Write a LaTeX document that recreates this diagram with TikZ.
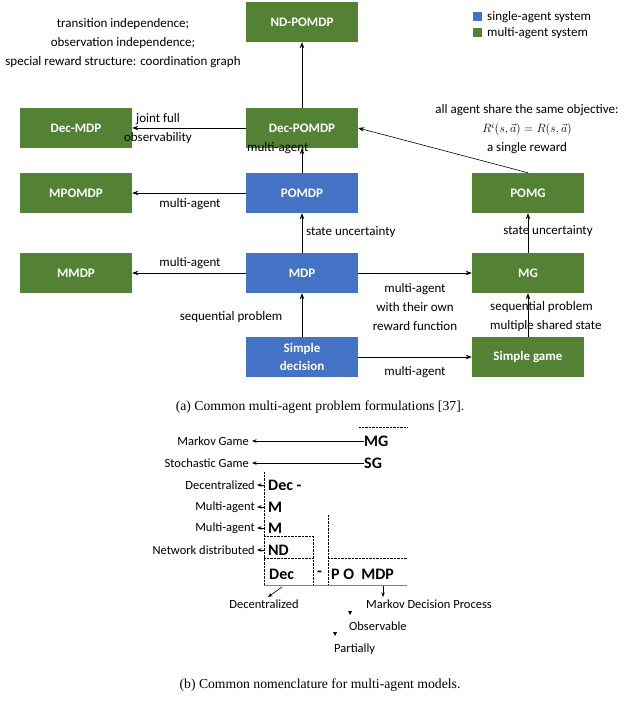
\documentclass[tikz,border=0pt]{standalone}
\usepackage{fontspec}
\setmainfont{Carlito}
\newfontfamily\capfont{Liberation Serif}
\usetikzlibrary{arrows.meta}
\definecolor{sblue}{HTML}{4472C4}
\definecolor{mgreen}{HTML}{548235}
\begin{document}
\begin{tikzpicture}[x=1pt,y=-1pt,
  box/.style={minimum width=112pt,minimum height=40pt,inner sep=0pt,text=white,font=\fontsize{13}{15}\selectfont\bfseries},
  sa/.style={box,fill=sblue},
  ma/.style={box,fill=mgreen},
  lbl/.style={font=\fontsize{13}{19}\selectfont,inner sep=0pt,align=center},
  arr/.style={-{Stealth[length=6pt,width=4.5pt]},thick},
  sm/.style={font=\fontsize{12.5}{14}\selectfont,inner sep=0pt},
  big/.style={font=\fontsize{16}{18}\selectfont\bfseries,inner sep=0pt,anchor=west},
  dot/.style={densely dotted,thin},
  sarr/.style={-{Stealth[length=4.5pt,width=3.5pt]},semithick},
  capt/.style={font=\capfont\fontsize{13.7}{16}\selectfont,inner sep=0pt}]
\useasboundingbox (0,0) rectangle (640,722);
% boxes
\node[ma] (nd) at (302,22) {ND-POMDP};
\node[ma] (decmdp) at (76,128) {Dec-MDP};
\node[ma] (decpomdp) at (302,128) {Dec-POMDP};
\node[ma] (mpomdp) at (76,193) {MPOMDP};
\node[sa] (pomdp) at (302,193) {POMDP};
\node[ma] (pomg) at (528,193) {POMG};
\node[ma] (mmdp) at (76,273) {MMDP};
\node[sa] (mdp) at (302,273) {MDP};
\node[ma] (mg) at (528,273) {MG};
\node[sa,font=\fontsize{13}{18}\selectfont\bfseries,align=center] (sd) at (302,357) {Simple\\decision};
\node[ma] (sg) at (528,357) {Simple game};
% legend
\node[fill=sblue,minimum size=9pt,inner sep=0pt] (l1) at (477,17) {};
\node[fill=mgreen,minimum size=9pt,inner sep=0pt] (l2) at (477,33) {};
\node[lbl,anchor=west] (t1) at (487,17) {single-agent system};
\node[lbl,anchor=west] (t2) at (487,33) {multi-agent system};
% arrows
\draw[arr] (decpomdp) -- (nd);
\draw[arr] (decpomdp) -- (decmdp);
\draw[arr] (pomdp) -- (decpomdp);
\draw[arr] (pomdp) -- (mpomdp);
\draw[arr] (mdp) -- (pomdp);
\draw[arr] (mdp) -- (mmdp);
\draw[arr] (mdp) -- (mg);
\draw[arr] (sd) -- (mdp);
\draw[arr] (sd) -- (sg);
\draw[arr] (mg) -- (pomg);
\draw[arr] (sg) -- (mg);
\draw[arr,semithick] (pomg.north) -- (decpomdp.east);
% labels
\node[lbl] (a1) at (123,43) {transition independence;\\observation independence;\\special reward structure: coordination graph};
\node[lbl] (a2) at (158,129) {joint full\\observability};
\node[lbl,anchor=west] (a3) at (247,148) {multi-agent};
\node[lbl] (a4) at (527,129) {all agent share the same objective:\\{\large$R^i(s,\vec{a})=R(s,\vec{a})$}\\a single reward};
\node[lbl] (a5) at (190,204) {multi-agent};
\node[lbl,anchor=west] (a6) at (306,232) {state uncertainty};
\node[lbl] (a7) at (548,231) {state uncertainty};
\node[lbl] (a8) at (190,263) {multi-agent};
\node[lbl] (a9) at (415,307) {multi-agent\\with their own\\reward function};
\node[lbl] (a10) at (231,317) {sequential problem};
\node[lbl,align=left,anchor=west] (a11) at (490,316.5) {sequential problem\\multiple shared state};
\node[lbl] (a12) at (415,372) {multi-agent};
\node[capt] (capa) at (320,407) {(a) Common multi-agent problem formulations [37].};
% part b
\draw[dot] (359,427) -- (407,427);
\node[big] (bmg) at (364,441) {MG};
\node[big] (bsg) at (364,463) {SG};
\node[sm,anchor=east] (tmg) at (249,441) {Markov Game};
\node[sm,anchor=east] (tsg) at (249,463) {Stochastic Game};
\draw[sarr] (bmg.west) -- ([xshift=3pt]tmg.east);
\draw[sarr] (bsg.west) -- ([xshift=3pt]tsg.east);
\draw[dot] (264,472) -- (264,585);
\node[big] (bdec) at (268,485) {Dec -};
\node[big] (bm1) at (268,507) {M};
\node[big] (bm2) at (268,528) {M};
\node[big] (bnd) at (268,550) {ND};
\node[big] (bdec2) at (269,574) {Dec};
\node[big] (bdash) at (317,574) {-};
\node[big] (bpo) at (331,574) {P O\ \ MDP};
\node[sm,anchor=east] (tdec) at (255,485) {Decentralized};
\node[sm,anchor=east] (tm1) at (255,507) {Multi-agent};
\node[sm,anchor=east] (tm2) at (255,528) {Multi-agent};
\node[sm,anchor=east] (tnd) at (255,550) {Network distributed};
\coordinate (v1) at (264,485); \coordinate (v2) at (264,507);
\coordinate (v3) at (264,528); \coordinate (v4) at (264,550);
\draw[sarr] (v1) -- ([xshift=2pt]tdec.east);
\draw[sarr] (v2) -- ([xshift=2pt]tm1.east);
\draw[sarr] (v3) -- ([xshift=2pt]tm2.east);
\draw[sarr] (v4) -- ([xshift=2pt]tnd.east);
\draw[dot] (264,536) -- (313,536) -- (313,585);
\draw[dot] (264,558) -- (313,558);
\draw[dot] (328,515) -- (328,585);
\draw[dot] (328,558) -- (407,558);
\draw[thin,gray] (264,585) -- (407,585);
\node[sm] (tdc) at (264,604) {Decentralized};
\node[sm,anchor=west] (tmdp) at (366,604) {Markov Decision Process};
\node[sm,anchor=west] (tobs) at (349,626) {Observable};
\node[sm,anchor=west] (tpar) at (334,649) {Partially};
\coordinate (d1) at (282,587); \coordinate (d2) at (383,586);
\coordinate (d3) at (268,597);
\draw[sarr] (d1) -- (d3);
\draw[sarr] (d2) -- (383,597);
\fill (348,611) -- (352,611) -- (350,615) -- cycle;
\fill (333,632) -- (337,632) -- (335,636) -- cycle;
\node[capt] (capb) at (320,685) {(b) Common nomenclature for multi-agent models.};
\end{tikzpicture}
\end{document}
